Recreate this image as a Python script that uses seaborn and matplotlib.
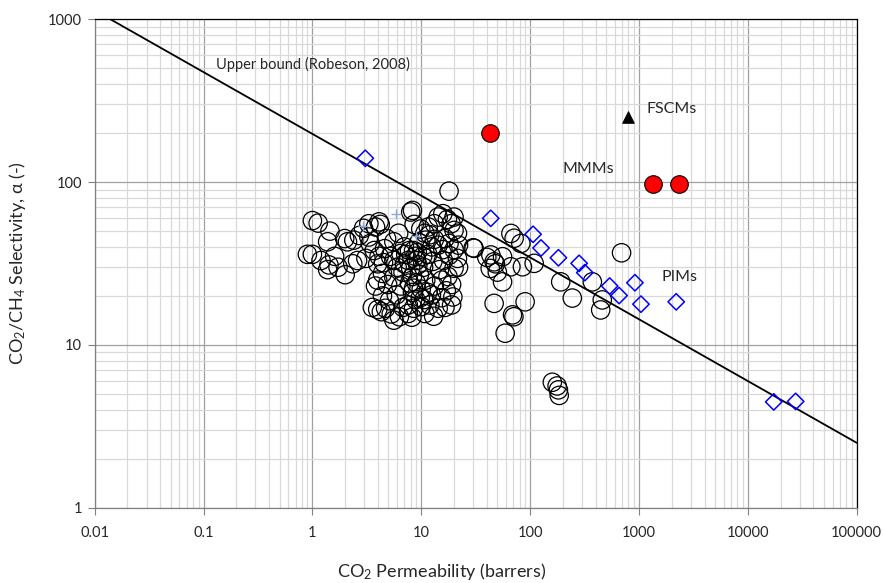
import numpy as np
import pandas as pd
import matplotlib
matplotlib.use("Agg")
import matplotlib.pyplot as plt
import seaborn as sns
from matplotlib.ticker import FixedLocator, FixedFormatter, LogLocator, NullFormatter

# polymers (open circles): CO2 permeability (barrers), CO2/CH4 selectivity
poly_p = [1.0, 1.13, 1.45, 1.38, 1.98, 2.1, 2.4, 2.7, 1.0, 1.2, 1.42, 1.6, 1.38, 1.72, 2.0,
          2.35, 2.6, 3.1, 3.4, 3.8, 4.2, 3.7, 4.1, 4.6, 3.98, 4.4, 3.98, 3.8, 4.9, 4.4,
          3.98, 4.7, 5.3, 6.3, 5.1, 5.9, 6.5, 5.6, 5.6, 6.5, 7.0, 5.6, 6.2, 7.8, 7.6,
          8.0, 7.0, 8.3, 7.8, 8.5, 8.3, 8.9, 7.6, 8.5, 10.0, 10.6, 8.0, 8.3, 9.2, 10.3,
          9.5, 10.8, 11.6, 13.2, 14.3, 15.8, 17.4, 18.8, 20, 21.5, 22, 20, 18, 15.8, 14.3,
          13.2, 12, 12.8, 14.7, 17.6, 20, 19, 17, 15.4, 13.2, 12.4, 15.4, 14.3, 19, 19.5,
          12, 10.8, 7.6, 5.6, 20, 18, 30, 21.5, 8.6, 9.9, 3.3, 4.1, 2.95, 0.9, 3.55, 4.3,
          8.8, 9.0, 8.5, 9.3, 7.2, 6.8, 9.6, 10.5, 11.5, 12.5, 11, 10, 11, 9, 6, 4.8, 3.3,
          5.2, 4.5, 16.5, 18, 16, 22, 11.5, 16.5, 9.8, 8.2, 6.8, 13,
          30.6, 43.6, 46.7, 55.8, 66.6, 71.3, 82.2, 85, 109, 66.6, 55.8, 46.7, 69, 71, 90,
          59, 191, 244, 460, 445, 692, 373, 40, 48, 43, 50,
          160, 177, 182, 185]
poly_a = [58, 56, 50, 43, 45, 43, 44, 47, 36, 33, 31, 35, 29, 30, 27,
          31.5, 33, 34, 42, 53, 55, 38, 35, 39, 31.5, 27.5, 25, 23, 23.5, 20,
          16.5, 16.8, 15.5, 14.9, 18.7, 20.3, 23, 26, 33, 36.5, 40, 43, 48.5, 38, 33,
          29.6, 31.5, 26.3, 24, 22.3, 21, 19, 17.6, 16.8, 17.2, 19, 65.5, 67, 37, 35,
          42.5, 48.5, 53, 55.5, 61, 64, 59, 55.5, 50.5, 48.5, 41, 38.5, 35.5, 38.5, 41,
          44.5, 47.5, 32.6, 29, 26.3, 29.6, 23.5, 21.5, 25, 23, 20.3, 19.5, 16.8, 17.6, 19.7,
          17.6, 15.6, 15.6, 14.2, 61, 88, 39.5, 34, 55, 51.5, 55.5, 57, 52, 36, 17, 16,
          35, 33, 38, 31, 36, 28, 27, 30, 36, 40, 44, 22, 25, 24, 30, 45, 46,
          35, 32, 45, 42, 33, 30, 21, 17, 19.5, 14.8, 17, 15,
          39.2, 35.7, 32.4, 34.8, 48.4, 45.2, 42, 30.2, 31.7, 30.2, 24.4, 18, 15.3, 14.9, 18.4,
          11.8, 24.4, 19.4, 18.9, 16.4, 36.8, 24.4, 34.5, 31.5, 29.5, 28,
          5.9, 5.6, 5.3, 4.9]

# PIMs (blue diamonds)
pim_p = [3.06, 43.5, 106.5, 126, 182, 282, 318, 538, 657, 918, 1043, 2198, 17300, 27500]
pim_a = [140, 59.9, 47.8, 39.4, 34.3, 31.7, 27.8, 23, 20.1, 24.1, 17.8, 18.4, 4.47, 4.5]

# small blue crosses
cross_p = [5.8, 2.94, 9.0]
cross_a = [63.6, 53.7, 46.6]

# MMMs (red circles) and FSCMs (black triangle)
mmm_p = [43, 1350, 2350]
mmm_a = [200, 97, 97]
fscm_p = [790]
fscm_a = [250]

# Robeson 2008 upper bound  P = k * alpha**n
bound_k = 1.127e6
bound_n = -2.636

x_ticks = [0.01, 0.1, 1, 10, 100, 1000, 10000, 100000]
x_labels = ["0.01", "0.1", "1", "10", "100", "1000", "10000", "100000"]
y_ticks = [1, 10, 100, 1000]
y_labels = ["1", "10", "100", "1000"]

sns.set_style("white")
plt.rcParams["font.family"] = ["Lato", "DejaVu Sans"]
plt.rcParams["mathtext.fontset"] = "custom"
plt.rcParams["mathtext.rm"] = "Lato"
plt.rcParams["mathtext.it"] = "Lato:italic"

fig = plt.figure(figsize=(8.85, 5.83), dpi=100)
ax = fig.add_axes([0.107, 0.129, 0.861, 0.838])
ax.set_xscale("log")
ax.set_yscale("log")
ax.set_xlim(0.01, 100000)
ax.set_ylim(1, 1000)

ax.xaxis.set_minor_locator(LogLocator(base=10, subs=np.arange(2, 10), numticks=20))
ax.yaxis.set_minor_locator(LogLocator(base=10, subs=np.arange(2, 10), numticks=20))
ax.grid(True, which="minor", color="#d9d9d9", lw=0.9, zorder=0)
ax.grid(True, which="major", color="#a0a0a0", lw=0.9, zorder=0)
ax.set_axisbelow(True)

line_p = np.logspace(-2, 5, 60)
bound = pd.DataFrame({"p": line_p, "a": (line_p / bound_k) ** (1 / bound_n)})
sns.lineplot(data=bound, x="p", y="a", color="black", lw=1.3, ax=ax, zorder=3)

sns.scatterplot(x=poly_p, y=poly_a, marker="o", s=175, facecolor="none",
                edgecolor="black", linewidth=0.9, ax=ax, zorder=4)
sns.scatterplot(x=cross_p, y=cross_a, marker="+", s=45, color="#8eaadb",
                linewidth=1.0, ax=ax, zorder=4)
sns.scatterplot(x=pim_p, y=pim_a, marker="D", s=70, facecolor="none",
                edgecolor="#0000ff", linewidth=1.1, ax=ax, zorder=5)
sns.scatterplot(x=mmm_p, y=mmm_a, marker="o", s=160, color="#ff0000",
                edgecolor="black", linewidth=0.8, ax=ax, zorder=6)
sns.scatterplot(x=fscm_p, y=fscm_a, marker="^", s=70, color="black",
                edgecolor="black", ax=ax, zorder=6)

ax.text(0.129, 530, "Upper bound (Robeson, 2008)", fontsize=10.5, ha="left", va="center")
ax.text(1183, 280, "FSCMs", fontsize=11.5, ha="left", va="center")
ax.text(197, 120, "MMMs", fontsize=11.5, ha="left", va="center")
ax.text(1626, 26.1, "PIMs", fontsize=11.5, ha="left", va="center")

ax.xaxis.set_major_locator(FixedLocator(x_ticks))
ax.xaxis.set_major_formatter(FixedFormatter(x_labels))
ax.xaxis.set_minor_formatter(NullFormatter())
ax.yaxis.set_major_locator(FixedLocator(y_ticks))
ax.yaxis.set_major_formatter(FixedFormatter(y_labels))
ax.yaxis.set_minor_formatter(NullFormatter())
ax.tick_params(which="major", direction="out", length=5, width=0.8, color="#808080",
               labelsize=10.5, bottom=True, left=True)
ax.tick_params(axis="x", which="major", pad=8)
ax.tick_params(axis="y", which="major", pad=4)
ax.tick_params(which="minor", length=0)

for side in ["left", "bottom"]:
    ax.spines[side].set_color("#808080")
for side in ["top", "right"]:
    ax.spines[side].set_color("black")
for sp in ax.spines.values():
    sp.set_linewidth(0.9)

ax.set_xlabel("CO$_2$ Permeability (barrers)", fontsize=13)
ax.set_ylabel("CO$_2$/CH$_4$ Selectivity, α (-)", fontsize=13)
ax.xaxis.set_label_coords(0.455, -0.108)
ax.yaxis.set_label_coords(-0.088, 0.5)

fig.savefig("out.png", dpi=100)
